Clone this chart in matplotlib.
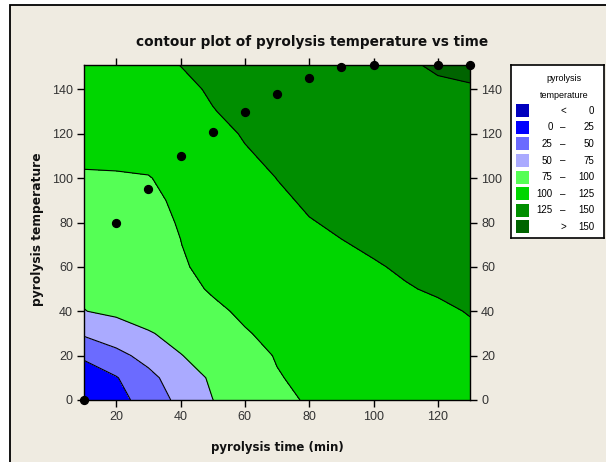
import matplotlib
matplotlib.use("Agg")
import matplotlib.pyplot as plt
from matplotlib.patches import Rectangle
import numpy as np

# ---------------- data ----------------
time_grid = [10, 20, 30, 40, 50, 60, 70, 80, 90, 100, 110, 120, 130]
temp_grid = [0, 10, 20, 30, 40, 50, 60, 70, 80, 90, 100, 110, 120, 130, 140, 150, 160]
z_rows = [
    [5.0, 17.7, 34.0, 57.0, 74.8, 84.3, 95.0, 102.0, 103.7, 106.5, 109.4, 112.2, 115.0],
    [14.0, 23.6, 43.3, 62.8, 78.3, 87.9, 99.0, 103.5, 105.3, 108.3, 111.4, 114.4, 117.4],
    [28.0, 43.0, 58.1, 74.2, 83.8, 94.0, 101.0, 103.9, 107.1, 110.2, 113.4, 116.5, 119.7],
    [53.3, 63.3, 73.2, 82.0, 90.6, 99.1, 103.0, 106.4, 109.7, 113.1, 116.4, 119.8, 123.2],
    [74.5, 79.3, 85.3, 91.4, 97.5, 102.1, 105.5, 109.0, 112.5, 116.0, 119.4, 122.9, 125.6],
    [78.6, 84.5, 90.3, 96.2, 101.3, 105.2, 109.0, 112.8, 116.6, 120.4, 124.2, 126.3, 128.0],
    [82.5, 87.9, 93.3, 98.7, 103.2, 107.3, 111.5, 115.7, 119.9, 124.0, 126.5, 128.4, 130.4],
    [86.5, 90.9, 95.4, 99.8, 104.7, 109.6, 114.5, 119.4, 124.3, 126.7, 128.7, 130.7, 132.7],
    [90.5, 93.8, 97.2, 100.6, 106.5, 112.1, 117.7, 124.3, 127.0, 128.7, 130.8, 133.0, 135.1],
    [94.4, 96.5, 98.8, 101.0, 108.5, 114.9, 122.5, 127.0, 128.2, 130.5, 132.9, 135.2, 137.5],
    [98.4, 98.8, 99.5, 103.5, 111.7, 118.6, 125.2, 127.6, 130.1, 132.5, 134.9, 137.4, 139.8],
    [102.4, 102.5, 103.0, 109.8, 116.5, 124.0, 126.9, 129.5, 132.0, 134.6, 137.1, 139.7, 142.2],
    [104.8, 109.1, 113.4, 117.6, 121.9, 125.8, 128.4, 131.1, 133.8, 136.5, 139.2, 141.9, 144.6],
    [107.2, 111.6, 115.9, 120.3, 124.6, 127.5, 130.3, 133.1, 135.9, 138.6, 141.4, 144.1, 146.9],
    [109.6, 113.9, 118.2, 122.5, 126.2, 129.1, 132.0, 134.9, 137.8, 140.7, 143.6, 147.5, 149.3],
    [112.0, 116.3, 120.7, 124.9, 128.2, 131.5, 134.7, 137.9, 141.2, 144.4, 147.7, 151.5, 151.7],
    [114.4, 118.7, 123.2, 127.5, 130.2, 133.9, 137.4, 140.9, 144.6, 148.1, 151.8, 155.0, 154.5],
]
points_time = [10, 20, 30, 40, 50, 60, 70, 80, 90, 100, 120, 130]
points_temp = [0, 80, 95, 110, 121, 130, 138, 145, 150, 151, 151, 151]

levels = [0, 25, 50, 75, 100, 125, 150]
level_colors = ["#0000BE", "#0000FF", "#6B6BFF", "#AAAAFF", "#55FF55",
                "#00D600", "#008E00", "#006400"]
x_ticks = [20, 40, 60, 80, 100, 120]
y_ticks = [0, 20, 40, 60, 80, 100, 120, 140]

title = "contour plot of pyrolysis temperature vs time"
xlabel = "pyrolysis time (min)"
ylabel = "pyrolysis temperature"
legend_title = ["pyrolysis", "temperature"]

# ---------------- figure ----------------
W, H = 606, 462
fig = plt.figure(figsize=(W / 100, H / 100), dpi=100)
fig.patch.set_facecolor("white")
bg = "#EFEBE1"
fig.patches.append(Rectangle((10 / W, -0.05), 1.2, 1 - 5 / H + 0.05,
                             transform=fig.transFigure, facecolor=bg,
                             edgecolor="black", linewidth=1.3, zorder=-10))

ax = fig.add_axes([84 / W, 1 - 400 / H, (470 - 84) / W, (400 - 65) / H])
Z = np.array(z_rows)
fill_levels = [-1e4] + levels + [1e4]
ax.contourf(time_grid, temp_grid, Z, levels=fill_levels, colors=level_colors)
ax.contour(time_grid, temp_grid, Z, levels=levels, colors="black", linewidths=0.8)
ax.scatter(points_time, points_temp, s=32, color="black", zorder=5, clip_on=False)

ax.set_xlim(10, 130)
ax.set_ylim(0, 151)
ax.set_xticks(x_ticks)
ax.set_yticks(y_ticks)
tick_font = ["Liberation Sans Narrow", "Liberation Sans", "DejaVu Sans"]
ax.tick_params(direction="out", length=5, width=1, labelsize=9, colors="black",
               labelcolor="#333333", top=True, right=True, labelright=True, pad=3)
for lab in ax.get_xticklabels() + ax.get_yticklabels():
    lab.set_family(tick_font)
for lab in ax.yaxis.get_ticklabels(which="both"):
    lab.set_family(tick_font)
for sp in ax.spines.values():
    sp.set_linewidth(1)

fig.text(312 / W, 1 - 42 / H, title, ha="center", va="center",
         fontsize=9.8, fontweight="bold", color="#111111", family="DejaVu Sans")
fig.text(277 / W, 1 - 447 / H, xlabel, ha="center", va="center",
         fontsize=8.5, fontweight="bold", color="#111111", family="DejaVu Sans")
fig.text(38 / W, 1 - 229 / H, ylabel, ha="center", va="center", rotation=90,
         fontsize=8.8, fontweight="bold", color="#111111", family="DejaVu Sans")

# ---------------- legend ----------------
lx0, ly0, lx1, ly1 = 511, 65, 604, 238
lax = fig.add_axes([lx0 / W, 1 - ly1 / H, (lx1 - lx0) / W, (ly1 - ly0) / H])
lax.set_xlim(0, lx1 - lx0)
lax.set_ylim(ly1 - ly0, 0)
lax.set_xticks([])
lax.set_yticks([])
lax.set_facecolor("white")
for sp in lax.spines.values():
    sp.set_linewidth(1.2)
leg_font = ["Liberation Sans", "DejaVu Sans"]
lax.text(53, 13, legend_title[0], ha="center", va="center", fontsize=6.5, family=leg_font)
lax.text(53, 30, legend_title[1], ha="center", va="center", fontsize=6.5, family=leg_font)
for i, col in enumerate(level_colors):
    yc = 45.7 + 16.6 * i
    lax.add_patch(Rectangle((5, yc - 6.5), 13, 13, facecolor=col, edgecolor="none"))
    if i == 0:
        lax.text(52, yc, "<", ha="center", va="center", fontsize=7, family=leg_font)
        lax.text(83.3, yc, str(levels[0]), ha="right", va="center", fontsize=7, family=leg_font)
    elif i == len(level_colors) - 1:
        lax.text(52, yc, ">", ha="center", va="center", fontsize=7, family=leg_font)
        lax.text(83.3, yc, str(levels[-1]), ha="right", va="center", fontsize=7, family=leg_font)
    else:
        lax.text(41.7, yc, str(levels[i - 1]), ha="right", va="center", fontsize=7, family=leg_font)
        lax.text(51.3, yc, "\u2013", ha="center", va="center", fontsize=7, family=leg_font)
        lax.text(83.3, yc, str(levels[i]), ha="right", va="center", fontsize=7, family=leg_font)

fig.savefig("out.png", dpi=100, facecolor=fig.get_facecolor())
